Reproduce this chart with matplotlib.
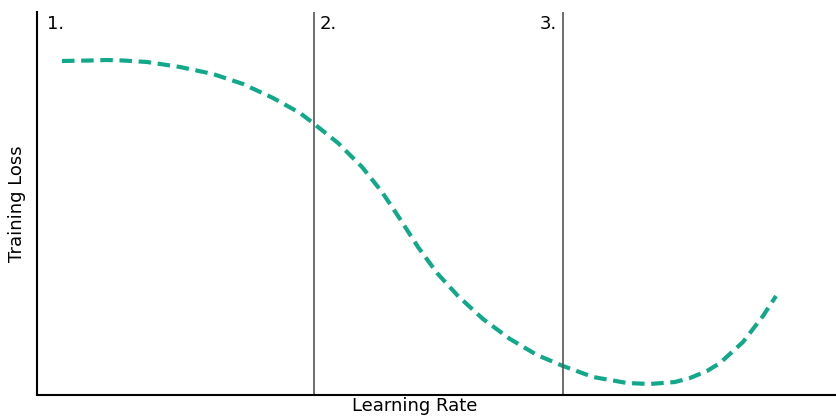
import matplotlib
matplotlib.use('Agg')
import matplotlib.pyplot as plt

# 学習率と損失の曲線
lr = [25, 53, 70, 86, 110, 143, 176, 206, 236, 263, 276, 301, 325, 345, 363, 381,
      400, 421, 446, 473, 500, 526, 556, 590, 613, 638, 653, 670, 683, 706, 726, 739]
loss = [334, 334.5, 335, 334.5, 333, 328, 321, 311, 297, 282, 272, 252, 228, 203, 176, 148,
        122, 99, 76, 56, 40, 29, 18, 12, 11, 13, 17, 24, 32, 53, 79, 99]

# 区切り線と番号
split_x = [277, 526]
labels = ['1.', '2.', '3.']
label_x = [10, 283, 520]
label_ha = ['left', 'left', 'right']

fig = plt.figure(figsize=(8.37, 4.16), dpi=100)
ax = fig.add_axes([37/837, 21/416, 800/837, 383/416])

ax.plot(lr, loss, color='#12a88a', linewidth=3, dashes=(3, 1.6))
for sx in split_x:
    ax.axvline(sx, color='#555555', linewidth=1.2)
for t, tx, ha in zip(labels, label_x, label_ha):
    ax.text(tx, 380, t, ha=ha, va='top', fontsize=13)

ax.set_xlim(0, 800)
ax.set_ylim(0, 383)
ax.set_xticks([])
ax.set_yticks([])
ax.spines['top'].set_visible(False)
ax.spines['right'].set_visible(False)
ax.spines['left'].set_linewidth(1.5)
ax.spines['bottom'].set_linewidth(1.5)

ax.set_xlabel('Learning Rate', fontsize=13)
ax.xaxis.set_label_coords(0.4725, -0.005, transform=ax.transAxes)
ax.xaxis.label.set_va('top')
ax.set_ylabel('Training Loss', fontsize=13)
ax.yaxis.label.set_va('center')
ax.yaxis.set_label_coords(-0.025, 0.5)

plt.savefig('out.png', dpi=100)
plt.close()
